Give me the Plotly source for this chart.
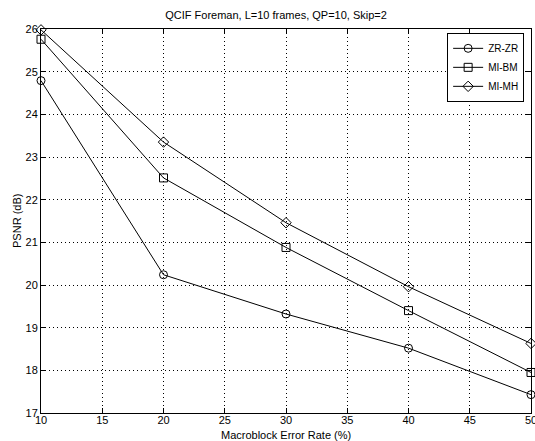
import plotly.graph_objects as go

error_rate = [10, 20, 30, 40, 50]
zr_zr = [24.79, 20.24, 19.32, 18.52, 17.43]
mi_bm = [25.76, 22.51, 20.88, 19.40, 17.95]
mi_mh = [25.98, 23.35, 21.46, 19.96, 18.63]

series = [
    ("ZR-ZR", zr_zr, "circle-open"),
    ("MI-BM", mi_bm, "square-open"),
    ("MI-MH", mi_mh, "diamond-open"),
]

fig = go.Figure()
for name, vals, sym in series:
    fig.add_trace(go.Scatter(
        x=error_rate, y=vals, name=name, mode="lines+markers",
        line=dict(color="black", width=1),
        marker=dict(symbol=sym, size=8, color="black", line=dict(width=1, color="black")),
        cliponaxis=False,
    ))

font = "Liberation Sans, Arial, Helvetica, sans-serif"
axis_common = dict(
    showgrid=True, gridcolor="black", griddash="1px,3px", gridwidth=1,
    showline=True, linecolor="black", linewidth=1, mirror="ticks",
    ticks="inside", ticklen=5, tickcolor="black", automargin=False,
    ticklabeloverflow="allow",
    zeroline=False, tickfont=dict(size=11, color="black", family=font),
)

fig.update_layout(
    width=535, height=441,
    margin=dict(l=41, r=4, t=29, b=28),
    paper_bgcolor="white", plot_bgcolor="white",
    font=dict(family=font, color="black", size=11),
    title=dict(text="QCIF Foreman, L=10 frames, QP=10, Skip=2", x=0.516, xanchor="center",
               y=0.966, yanchor="middle", font=dict(size=11, color="black")),
    xaxis=dict(range=[10, 50], tickvals=[10, 15, 20, 25, 30, 35, 40, 45, 50],
               ticklabelstandoff=-3, **axis_common),
    yaxis=dict(range=[17, 26], tickvals=list(range(17, 27)), **axis_common),
    legend=dict(x=0.986, y=0.99, xanchor="right", yanchor="top",
                bgcolor="white", bordercolor="black", borderwidth=1,
                font=dict(size=10, color="black"), itemwidth=30,
                tracegroupgap=0),
    showlegend=True,
    annotations=[
        dict(text="Macroblock Error Rate (%)", xref="paper", yref="paper",
             x=0.5, y=-0.056, xanchor="center", yanchor="middle",
             showarrow=False, font=dict(size=11, color="black")),
        dict(text="PSNR (dB)", xref="paper", yref="paper", textangle=-90,
             x=-0.049, y=0.5, xanchor="center", yanchor="middle",
             showarrow=False, font=dict(size=11, color="black")),
    ],
)

fig.write_html(
    "out.html",
    config={"displayModeBar": False},
    post_script="document.body.style.margin='0';document.body.style.overflow='hidden';",
)
